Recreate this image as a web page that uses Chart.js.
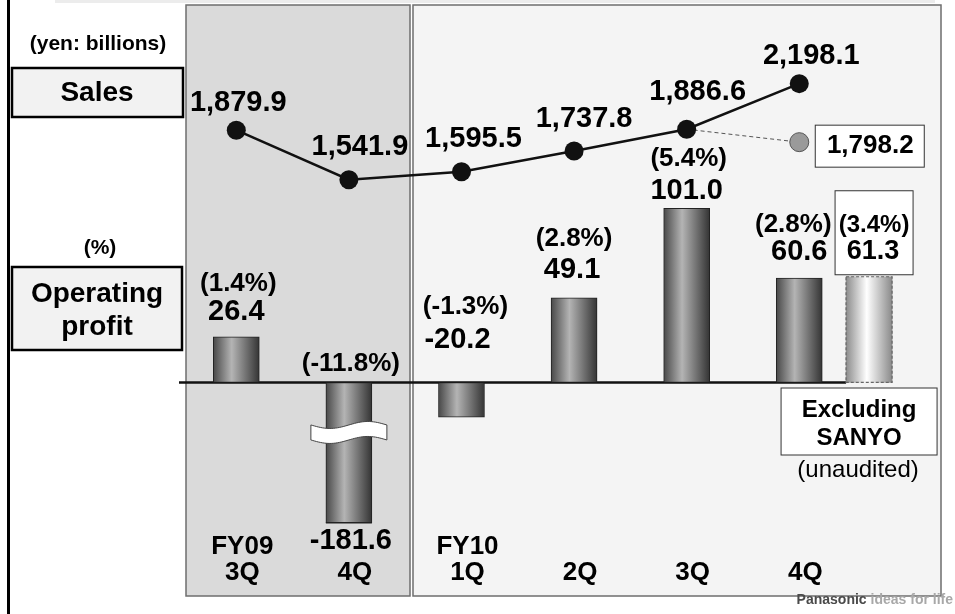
<!DOCTYPE html>
<html>
<head>
<meta charset="utf-8">
<title>Sales and operating profit</title>
<script src="https://cdn.jsdelivr.net/npm/chart.js@4.4.1/dist/chart.umd.min.js"></script>
<style>
  html, body { margin: 0; padding: 0; background: #fff; }
  #wrap { width: 955px; height: 614px; }
</style>
</head>
<body>
<div id="wrap"><canvas id="chart" width="955" height="614"></canvas></div>
<script>
// quarterly results, yen billions
const fiscalYears = ["FY09", "", "FY10", "", "", ""];
const quarters = ["3Q", "4Q", "1Q", "2Q", "3Q", "4Q"];
const sales = [1879.9, 1541.9, 1595.5, 1737.8, 1886.6, 2198.1];
const operatingProfit = [26.4, -181.6, -20.2, 49.1, 101.0, 60.6];
const profitMargin = [1.4, -11.8, -1.3, 2.8, 5.4, 2.8];

// FY10 4Q excluding SANYO (unaudited)
const salesExSanyo = 1798.2;
const profitExSanyo = 61.3;
const marginExSanyo = 3.4;

const FONT = '"Liberation Sans", Arial, sans-serif';
const BROKEN = 1; // the FY09 4Q bar runs off the axis

// the ex-SANYO bar sits just right of FY10 4Q
const exSanyoX = quarters.length - 1 + 0.62;

// label nudges: sales [dx, dy] from the point,
// profit [value dx, value dy, margin dx, margin dy] from the bar's upper end
const salesNudge = [[2, -27], [11, -33], [12, -33], [10, -32], [11, -37], [12, -28]];
const profitNudge = [[0, -25, 2, -53], [0, 0, 2, -19], [-4, -42, 4, -76],
                     [-2, -28, 0, -59], [0, -17, 2, -49], [0, -26, -6, -53]];

const fmtSales = v => v.toLocaleString("en-US", { minimumFractionDigits: 1, maximumFractionDigits: 1 });
const fmtProfit = v => v.toFixed(1);
const fmtMargin = v => "(" + v.toFixed(1) + "%)";

function text(c, str, x, y, size, opts) {
  opts = opts || {};
  c.save();
  c.font = (opts.bold === false ? "" : "bold ") + size + "px " + FONT;
  c.fillStyle = opts.color || "#000";
  c.textAlign = opts.align || "center";
  c.textBaseline = "middle";
  c.fillText(str, x, y);
  c.restore();
}

function box(c, x, y, w, h, fill, stroke, lw) {
  c.save();
  c.fillStyle = fill;
  c.fillRect(x, y, w, h);
  c.strokeStyle = stroke;
  c.lineWidth = lw;
  c.strokeRect(x, y, w, h);
  c.restore();
}

function barFill(ctx, light) {
  const chart = ctx.chart;
  const flat = light ? "#dddddd" : "#888888";
  if (!ctx.raw || !chart.scales.x) return flat;
  const x = chart.scales.x.getPixelForValue(ctx.raw.x);
  if (!isFinite(x)) return flat;
  const g = chart.ctx.createLinearGradient(x - 23, 0, x + 23, 0);
  if (light) {
    g.addColorStop(0, "#8c8c8c");
    g.addColorStop(0.45, "#ffffff");
    g.addColorStop(1, "#8a8a8a");
  } else {
    g.addColorStop(0, "#484848");
    g.addColorStop(0.4, "#b4b4b4");
    g.addColorStop(1, "#343434");
  }
  return g;
}

function drawBreak(c, x, y, w) {
  const h = 15, amp = 3.5, n = 40, x0 = x - w / 2;
  c.save();
  c.beginPath();
  for (let i = 0; i <= n; i++) {
    const t = i / n;
    const py = y - h / 2 + amp * Math.sin(t * 2 * Math.PI);
    i ? c.lineTo(x0 + t * w, py) : c.moveTo(x0 + t * w, py);
  }
  for (let i = n; i >= 0; i--) {
    const t = i / n;
    c.lineTo(x0 + t * w, y + h / 2 + amp * Math.sin(t * 2 * Math.PI));
  }
  c.closePath();
  c.fillStyle = "#fff";
  c.fill();
  c.strokeStyle = "#444";
  c.lineWidth = 1;
  c.stroke();
  c.restore();
}

// period panels and the row captions on the left
const backdrop = {
  id: "backdrop",
  beforeDraw(chart) {
    const c = chart.ctx;
    c.save();
    c.fillStyle = "#fff";
    c.fillRect(0, 0, chart.width, chart.height);
    c.fillStyle = "#ececec";
    c.fillRect(55, 0, 880, 3);
    c.fillStyle = "#000";
    c.fillRect(7, 0, 3, chart.height);
    c.restore();

    box(c, 186, 5, 224, 591, "#dadada", "#6e6e6e", 1.5);
    box(c, 413, 5, 528, 591, "#f4f4f4", "#6e6e6e", 1.5);

    text(c, "(yen: billions)", 98, 44, 21);
    box(c, 12, 68, 171, 49, "#f2f2f2", "#000", 2.5);
    text(c, "Sales", 97, 93, 28);

    text(c, "(%)", 100, 248, 21);
    box(c, 12, 267, 170, 83, "#f2f2f2", "#000", 2.5);
    text(c, "Operating", 97, 294, 28);
    text(c, "profit", 97, 327, 28);

    // wordmark, bottom right
    c.save();
    c.font = "bold 14px " + FONT;
    c.textBaseline = "middle";
    c.textAlign = "right";
    c.fillStyle = "#a8a8a8";
    c.fillText("ideas for life", 953, 600);
    const w = c.measureText(" ideas for life").width;
    c.fillStyle = "#4a4a4a";
    c.fillText("Panasonic", 953 - w, 600);
    c.restore();
  },
  beforeDatasetsDraw(chart) {
    const c = chart.ctx;
    const y0 = chart.scales.y.getPixelForValue(0);
    const ex = chart.getDatasetMeta(1).data[0];
    c.save();
    c.strokeStyle = "#111";
    c.lineWidth = 2.5;
    c.beginPath();
    c.moveTo(chart.chartArea.left - 1, y0);
    c.lineTo(ex.x - ex.width / 2, y0);
    c.stroke();
    c.restore();
  }
};

// value labels, break mark and the ex-SANYO call-outs
const annotations = {
  id: "annotations",
  afterDatasetsDraw(chart) {
    const c = chart.ctx;
    const area = chart.chartArea;

    const bars = chart.getDatasetMeta(0).data;
    bars.forEach((el, i) => {
      const top = Math.min(el.y, el.base);
      const n = profitNudge[i];
      text(c, fmtMargin(profitMargin[i]), el.x + n[2], top + n[3], 26);
      if (i === BROKEN) {
        c.save();
        c.fillStyle = "#222";
        c.fillRect(el.x - el.width / 2, area.bottom - 1, el.width, 1.5);
        c.restore();
        drawBreak(c, el.x, el.base + 50, el.width + 30);
        text(c, fmtProfit(operatingProfit[i]), el.x + 2, area.bottom + 18, 29);
      } else {
        text(c, fmtProfit(operatingProfit[i]), el.x + n[0], top + n[1], 29);
      }
    });

    // excluding SANYO bar: dashed outline, boxed label, caption
    const ex = chart.getDatasetMeta(1).data[0];
    c.save();
    c.setLineDash([3, 2]);
    c.strokeStyle = "#666";
    c.lineWidth = 1.2;
    c.strokeRect(ex.x - ex.width / 2, ex.y, ex.width, ex.base - ex.y);
    c.restore();
    box(c, ex.x - 34, ex.y - 86, 78, 84, "#fff", "#333", 1);
    text(c, fmtMargin(marginExSanyo), ex.x + 5, ex.y - 51, 24);
    text(c, fmtProfit(profitExSanyo), ex.x + 4, ex.y - 25, 27);

    box(c, ex.x - 88, 388, 156, 67, "#fff", "#333", 1);
    text(c, "Excluding", ex.x - 10, 410, 24);
    text(c, "SANYO", ex.x - 10, 438, 24);
    text(c, "(unaudited)", ex.x - 11, 470, 24, { bold: false });

    // sales labels
    const pts = chart.getDatasetMeta(2).data;
    pts.forEach((p, i) => {
      text(c, fmtSales(sales[i]), p.x + salesNudge[i][0], p.y + salesNudge[i][1], 29);
    });
    const gp = chart.getDatasetMeta(3).data[1];
    box(c, gp.x + 16, gp.y - 17, 109, 42, "#fff", "#333", 1);
    text(c, fmtSales(salesExSanyo), gp.x + 71, gp.y + 4, 26);
  }
};

const pointsOf = (arr) => arr.map((v, i) => ({ x: i, y: v }));

new Chart(document.getElementById("chart"), {
  data: {
    datasets: [
      {
        type: "bar",
        data: pointsOf(operatingProfit),
        yAxisID: "y",
        grouped: false,
        maxBarThickness: 46,
        barPercentage: 1,
        categoryPercentage: 1,
        backgroundColor: (ctx) => barFill(ctx, false),
        borderColor: "#222",
        borderWidth: 1,
        borderSkipped: false,
        order: 3
      },
      {
        type: "bar",
        data: [{ x: exSanyoX, y: profitExSanyo }],
        yAxisID: "y",
        grouped: false,
        maxBarThickness: 46,
        barPercentage: 1,
        categoryPercentage: 1,
        backgroundColor: (ctx) => barFill(ctx, true),
        borderWidth: 0,
        order: 2
      },
      {
        type: "line",
        data: pointsOf(sales),
        yAxisID: "ySales",
        borderColor: "#111",
        borderWidth: 2.5,
        pointRadius: 9.5,
        pointBackgroundColor: "#111",
        pointBorderWidth: 0,
        tension: 0,
        order: 0
      },
      {
        type: "line",
        data: [{ x: quarters.length - 2, y: sales[sales.length - 2] }, { x: quarters.length - 1, y: salesExSanyo }],
        yAxisID: "ySales",
        borderColor: "#555",
        borderWidth: 1,
        borderDash: [4, 3],
        pointRadius: [0, 9.5],
        pointBackgroundColor: "#9a9a9a",
        pointBorderColor: "#555",
        pointBorderWidth: 1,
        order: 1
      }
    ]
  },
  options: {
    responsive: false,
    animation: false,
    devicePixelRatio: 1,
    layout: { padding: { left: 180, right: 15, top: 5, bottom: 0 } },
    plugins: { legend: { display: false }, tooltip: { enabled: false } },
    scales: {
      x: {
        type: "linear",
        min: -0.5,
        max: 6.25,
        offset: false,
        grid: { display: false, drawTicks: false },
        border: { display: false },
        afterBuildTicks: (s) => { s.ticks = quarters.map((_, i) => ({ value: i })); },
        afterFit: (s) => { s.height = 91; },
        ticks: {
          autoSkip: false,
          maxRotation: 0,
          padding: 11,
          labelOffset: 6,
          color: "#000",
          font: { family: FONT, size: 26, weight: "bold", lineHeight: 1 },
          callback: (v) => [fiscalYears[v], quarters[v]]
        }
      },
      y: { display: false, min: -81.5, max: 215.7 },
      ySales: { display: false, min: -804.3, max: 2698 }
    }
  },
  plugins: [backdrop, annotations]
});
</script>
</body>
</html>
